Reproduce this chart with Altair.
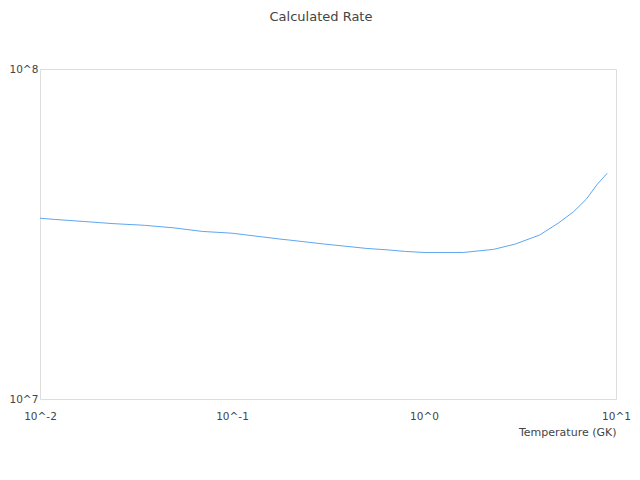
import altair as alt
import pandas as pd

temps = [0.01, 0.012, 0.017, 0.024, 0.035, 0.05, 0.07, 0.1, 0.18, 0.2, 0.3,
         0.5, 0.65, 0.8, 1.0, 1.6, 2.3, 3.0, 4.0, 5.0, 6.0, 7.0, 8.0, 9.0]
rates = [3.53e7, 3.50e7, 3.45e7, 3.40e7, 3.36e7, 3.30e7, 3.22e7, 3.18e7, 3.05e7,
         3.03e7, 2.95e7, 2.86e7, 2.83e7, 2.80e7, 2.78e7, 2.78e7, 2.84e7, 2.95e7,
         3.14e7, 3.41e7, 3.69e7, 4.03e7, 4.48e7, 4.83e7]
x_ticks = [0.01, 0.1, 1, 10]
y_ticks = [1e7, 1e8]

df = pd.DataFrame({"T": temps, "rate": rates})

FONT = "DejaVu Sans"
label_expr = "'10^' + round(log(datum.value) / LN10)"

chart = alt.Chart(df).mark_line(color="#5fa6ef", strokeWidth=1).encode(
    x=alt.X("T:Q",
            scale=alt.Scale(type="log", domain=[0.01, 10], nice=False),
            axis=alt.Axis(values=x_ticks, labelExpr=label_expr, title="Temperature (GK)",
                          grid=False, ticks=False, tickSize=0, domain=False,
                          labelFlush=False, labelPadding=12, labelFontSize=10.5,
                          labelFont=FONT, labelColor="#444",
                          titleFont=FONT, titleFontSize=11, titleFontWeight="normal",
                          titleColor="#444", titleAnchor="end", titlePadding=5)),
    y=alt.Y("rate:Q",
            scale=alt.Scale(type="log", domain=[1e7, 1e8], nice=False),
            axis=alt.Axis(values=y_ticks, labelExpr=label_expr, title=None,
                          grid=False, ticks=False, tickSize=0, domain=False,
                          labelFlush=False, labelAlign="left", labelPadding=31,
                          labelFontSize=10.5, labelFont=FONT, labelColor="#444")),
).properties(
    width=576,
    height=330,
    title=alt.TitleParams("Calculated Rate", font=FONT, fontSize=13, fontWeight="normal",
                          color="#444", anchor="middle", baseline="alphabetic",
                          offset=30, dx=-7),
    autosize=alt.AutoSizeParams(type="none"),
    padding={"left": 32, "top": 61, "right": 16, "bottom": 60},
).configure_view(stroke="#ddd", strokeWidth=1)

chart.save("out.html", embed_options={"renderer": "svg", "actions": False})
